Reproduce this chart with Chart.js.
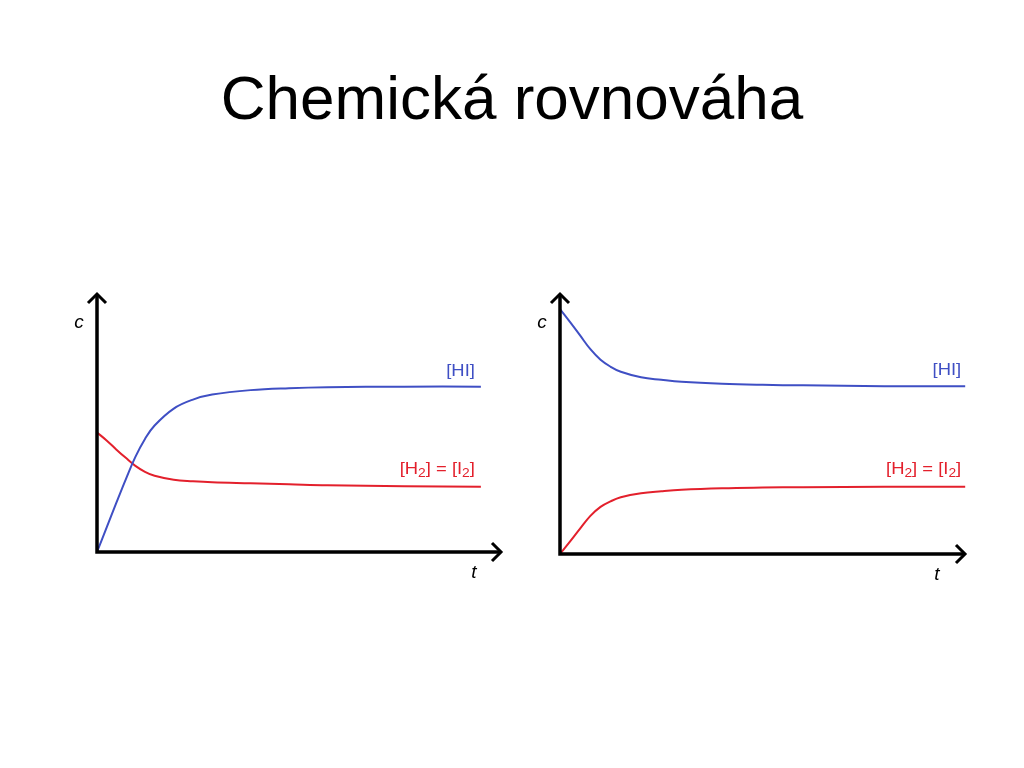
<!DOCTYPE html>
<html lang="cs">
<head>
    <meta charset="UTF-8">
    <title>Chemická rovnováha</title>
    <script src="https://cdn.jsdelivr.net/npm/chart.js"></script>
    <style>
        body { margin: 0; background: #fff; width: 1024px; height: 768px; position: relative; overflow: hidden; }
        #title { position: absolute; left: 0; width: 1024px; top: 67px; text-align: center;
                 font-family: "Liberation Sans", Arial, sans-serif; font-size: 62px; line-height: 1; color: #000; }
        .box { position: absolute; top: 280px; height: 310px; }
    </style>
</head>
<body>
<div id="title">Chemická rovnováha</div>
<div class="box" style="left:40px;width:480px"><canvas id="graph_left" width="480" height="310"></canvas></div>
<div class="box" style="left:520px;width:470px"><canvas id="graph_right" width="470" height="310"></canvas></div>
<script>
    // time points (same for both plots)
    let t_val = [0, 0.25, 0.5, 0.75, 1, 1.25, 1.5, 2, 2.5, 3, 4, 5, 6, 8, 10];

    // left: start with H2 + I2 only
    let hi_left = [0, 2.45, 4.9, 7.3, 9.55, 11.35, 12.7, 14.4, 15.3, 15.8, 16.25, 16.45, 16.55, 16.6, 16.6];
    let h2_left = [12.0, 11.2, 10.3, 9.45, 8.65, 8.05, 7.65, 7.25, 7.1, 7.0, 6.9, 6.8, 6.7, 6.6, 6.55];

    // right: start with HI only
    let hi_right = [24.4, 23.1, 21.75, 20.4, 19.35, 18.65, 18.15, 17.6, 17.35, 17.15, 16.95, 16.85, 16.8, 16.72, 16.7];
    let h2_right = [0, 1.25, 2.55, 3.8, 4.7, 5.25, 5.65, 6.05, 6.25, 6.4, 6.55, 6.62, 6.66, 6.7, 6.7];

    const BLUE = '#3f4fc4';
    const RED = '#e3202c';
    const FONT = '"Liberation Sans", Arial, sans-serif';

    function pts(arr) {
        return t_val.map((t, i) => ({x: t, y: arr[i]}));
    }

    // text made of pieces, some of them subscript; right aligned at x
    function drawLabel(ctx, parts, xRight, yBase, color) {
        ctx.save();
        ctx.fillStyle = color;
        ctx.textBaseline = 'alphabetic';
        ctx.textAlign = 'left';
        let sx = 1.15;
        let w = 0;
        parts.forEach(p => {
            ctx.font = (p.sub ? '12px ' : '16px ') + FONT;
            w += ctx.measureText(p.text).width;
        });
        ctx.translate(xRight - w * sx, yBase);
        ctx.scale(sx, 1);
        let x = 0;
        parts.forEach(p => {
            ctx.font = (p.sub ? '12px ' : '16px ') + FONT;
            ctx.fillText(p.text, x, p.sub ? 3 : 0);
            x += ctx.measureText(p.text).width;
        });
        ctx.restore();
    }

    const axesPlugin = {
        id: 'axes',
        afterDatasetsDraw(chart, args, opts) {
            let ctx = chart.ctx;
            let xs = chart.scales.x, ys = chart.scales.y;
            let x0 = xs.getPixelForValue(0), y0 = ys.getPixelForValue(0);
            let xEnd = xs.right, yTop = ys.top;
            ctx.save();
            ctx.strokeStyle = '#000';
            ctx.lineWidth = 3.5;
            ctx.lineCap = 'butt';
            ctx.beginPath();
            ctx.moveTo(x0, y0 + 1.75);
            ctx.lineTo(x0, yTop + 1);
            ctx.moveTo(x0 - 1.75, y0);
            ctx.lineTo(xEnd - 1, y0);
            ctx.stroke();
            // open arrow heads
            ctx.lineWidth = 3;
            ctx.lineJoin = 'miter';
            ctx.beginPath();
            ctx.moveTo(x0 - 9, yTop + 10);
            ctx.lineTo(x0, yTop + 1);
            ctx.lineTo(x0 + 9, yTop + 10);
            ctx.moveTo(xEnd - 10, y0 - 9);
            ctx.lineTo(xEnd - 1, y0);
            ctx.lineTo(xEnd - 10, y0 + 9);
            ctx.stroke();
            // axis names
            ctx.fillStyle = '#000';
            ctx.font = 'italic 19px ' + FONT;
            ctx.textAlign = 'center';
            ctx.textBaseline = 'alphabetic';
            ctx.fillText('c', x0 - 18, yTop + 35);
            ctx.fillText('t', xEnd + opts.tOffset, y0 + 26);
            ctx.restore();

            // curve names at the right end
            let xr = xs.getPixelForValue(10) + opts.labelShift;
            let last = chart.data.datasets.map(d => d.data[d.data.length - 1].y);
            drawLabel(ctx, [{text: '[HI]'}], xr, ys.getPixelForValue(last[0]) - 11, BLUE);
            drawLabel(ctx, [{text: '[H'}, {text: '2', sub: true}, {text: '] = [I'}, {text: '2', sub: true}, {text: ']'}],
                xr, ys.getPixelForValue(last[1]) - 13, RED);
        }
    };

    function makeChart(id, hi, h2, xMax, pad, tOffset, labelShift) {
        return new Chart(document.getElementById(id), {
            type: 'line',
            data: {
                datasets: [
                    {label: '[HI]', data: pts(hi), borderColor: BLUE, borderWidth: 2,
                        tension: 0.4, pointRadius: 0, fill: false},
                    {label: '[H2] = [I2]', data: pts(h2), borderColor: RED, borderWidth: 2,
                        tension: 0.4, pointRadius: 0, fill: false},
                ],
            },
            options: {
                responsive: false,
                animation: false,
                clip: false,
                layout: {padding: pad},
                plugins: {
                    legend: {display: false},
                    tooltip: {enabled: false},
                    axes: {tOffset: tOffset, labelShift: labelShift},
                },
                scales: {
                    x: {type: 'linear', min: 0, max: xMax, display: false},
                    y: {type: 'linear', min: 0, max: 26, display: false},
                },
            },
            plugins: [axesPlugin],
        });
    }

    makeChart('graph_left', hi_left, h2_left, 10.55, {left: 57, right: 18, top: 13, bottom: 38}, -28, -6);
    makeChart('graph_right', hi_right, h2_right, 10.02, {left: 40, right: 24, top: 13, bottom: 36}, -29, -4);
</script>
</body>
</html>
